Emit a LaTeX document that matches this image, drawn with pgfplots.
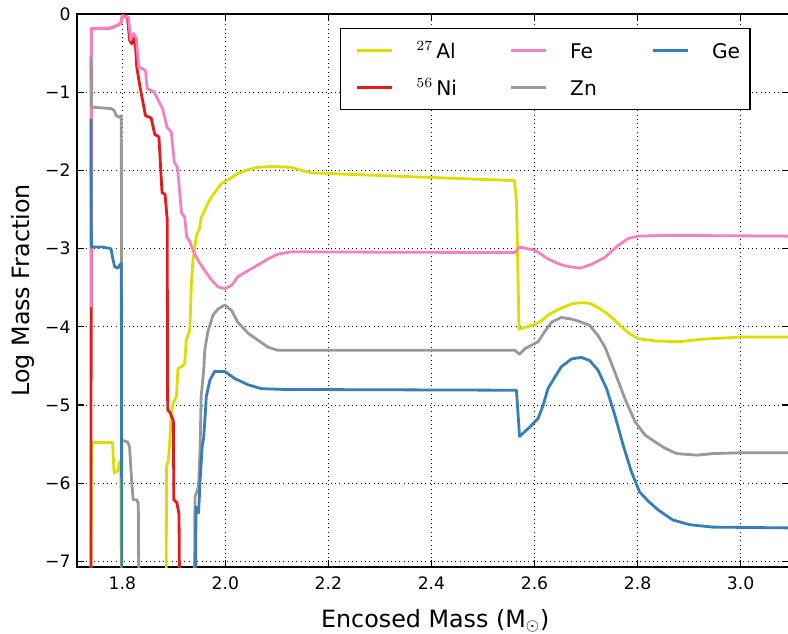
\documentclass[border=0pt]{standalone}
\usepackage{pgfplots}
\pgfplotsset{compat=1.18}
\usepackage{fontspec}
\setmainfont{DejaVu Sans}

\definecolor{alcol}{HTML}{DDDD00}
\definecolor{nicol}{HTML}{E41A1C}
\definecolor{fecol}{HTML}{F781BF}
\definecolor{zncol}{HTML}{999999}
\definecolor{gecol}{HTML}{377EB8}

\begin{document}
\begin{tikzpicture}
\useasboundingbox (-38.5pt,-33pt) rectangle (355.5pt,283.5pt);
\begin{axis}[
  at={(0,0)}, anchor=south west,
  width=356pt, height=276.5pt, scale only axis,
  xmin=1.712, xmax=3.094, ymin=-7.07, ymax=0,
  xtick={1.8,2.0,2.2,2.4,2.6,2.8,3.0},
  xticklabels={1.8,2.0,2.2,2.4,2.6,2.8,3.0},
  ytick={-7,-6,-5,-4,-3,-2,-1,0},
  yticklabels={−7,−6,−5,−4,−3,−2,−1,0},
  tick align=inside, major tick length=3.5pt,
  every tick/.style={black, line width=0.6pt},
  grid=major,
  major grid style={black, line width=0.45pt, dash pattern=on 0.5pt off 1.65pt},
  axis line style={black, line width=0.7pt},
  tick label style={font=\fontsize{8.6pt}{10pt}\selectfont, inner sep=0pt},
  xticklabel style={yshift=-4.85pt},
  yticklabel style={xshift=-3pt},
  label style={font=\fontsize{11.9pt}{14pt}\selectfont, inner sep=0pt},
  xlabel={Encosed Mass (M$_\odot$)},
  xlabel style={at={(axis description cs:0.3423,-0.109)}, anchor=base west},
  ylabel={Log Mass Fraction},
  ylabel style={at={(axis description cs:-0.0674,0.3074)}, anchor=base west},
  every axis plot/.append style={line width=1.4pt, line join=round},
  legend image code/.code={\draw[#1] (0pt,0pt) -- (17.5pt,0pt);},
  legend columns=3,
  legend style={
    at={(axis description cs:0.3694,0.9747)}, anchor=north west,
    draw=black, line width=0.6pt, fill=white,
    font=\fontsize{10.1pt}{12pt}\selectfont,
    inner xsep=7.5pt, inner ysep=4.75pt,
    nodes={inner sep=0pt, text height=10pt, text depth=2.5pt},
    cells={anchor=west},
    row sep=6pt,
    /tikz/every odd column/.append style={column sep=11.5pt},
    /tikz/every even column/.append style={column sep=6.5pt},
  },
]
% 27Al
\addplot[alcol, forget plot] coordinates {
(1.739,-7.3) (1.740,-5.48) (1.781,-5.48) (1.784,-5.87) (1.791,-5.84) (1.795,-5.72) (1.797,-5.72) (1.798,-7.3)
(1.885,-7.3) (1.886,-5.78) (1.889,-5.72) (1.892,-5.49) (1.895,-5.10) (1.899,-4.97) (1.905,-4.89) (1.908,-4.53)
(1.915,-4.51) (1.921,-4.47) (1.924,-4.17) (1.931,-4.04) (1.934,-3.45) (1.937,-3.15) (1.944,-2.83) (1.950,-2.74)
(1.953,-2.60) (1.960,-2.51) (1.966,-2.42) (1.973,-2.34) (1.983,-2.25) (1.992,-2.17) (2.005,-2.12) (2.024,-2.04)
(2.044,-1.99) (2.063,-1.96) (2.089,-1.95) (2.128,-1.96) (2.148,-2.00) (2.167,-2.03) (2.241,-2.05) (2.400,-2.09)
(2.561,-2.13) (2.565,-2.38) (2.567,-3.02) (2.570,-4.03) (2.601,-3.97) (2.614,-3.92) (2.626,-3.85) (2.642,-3.79)
(2.659,-3.74) (2.676,-3.70) (2.694,-3.69) (2.707,-3.70) (2.717,-3.73) (2.737,-3.81) (2.753,-3.90) (2.769,-4.00)
(2.785,-4.09) (2.801,-4.15) (2.834,-4.18) (2.881,-4.19) (2.921,-4.16) (2.998,-4.13) (3.094,-4.13)
};
% 56Ni
\addplot[nicol, forget plot] coordinates {
(1.739,-7.3) (1.740,-0.19) (1.777,-0.18) (1.789,-0.15) (1.797,-0.12) (1.800,-0.03) (1.810,-0.04) (1.814,-0.33)
(1.818,-0.38) (1.822,-0.30) (1.826,-0.45) (1.828,-0.68) (1.834,-0.92) (1.845,-1.30) (1.856,-1.33) (1.863,-1.54)
(1.871,-1.57) (1.877,-2.28) (1.883,-2.31) (1.887,-2.62) (1.888,-5.06) (1.893,-5.10) (1.899,-5.20) (1.900,-6.21)
(1.906,-6.25) (1.910,-6.40) (1.911,-7.3)
};
% Fe
\addplot[fecol, forget plot] coordinates {
(1.739,-3.75) (1.740,-0.19) (1.777,-0.18) (1.789,-0.15) (1.797,-0.12) (1.800,-0.02) (1.812,-0.04) (1.816,-0.33)
(1.822,-0.25) (1.827,-0.30) (1.832,-0.68) (1.845,-0.72) (1.848,-0.95) (1.862,-1.00) (1.868,-1.08) (1.878,-1.21)
(1.887,-1.45) (1.895,-1.51) (1.901,-1.90) (1.907,-1.96) (1.915,-2.55) (1.921,-2.59) (1.925,-2.85) (1.931,-2.91)
(1.937,-3.02) (1.947,-3.15) (1.960,-3.28) (1.973,-3.40) (1.986,-3.49) (1.999,-3.51) (2.012,-3.47) (2.024,-3.36)
(2.044,-3.28) (2.063,-3.21) (2.083,-3.13) (2.102,-3.07) (2.128,-3.04) (2.300,-3.045) (2.562,-3.05) (2.571,-2.98)
(2.601,-3.02) (2.626,-3.13) (2.642,-3.18) (2.659,-3.22) (2.688,-3.25) (2.711,-3.20) (2.737,-3.11) (2.762,-2.96)
(2.782,-2.87) (2.801,-2.84) (2.853,-2.83) (3.094,-2.84)
};
% Zn
\addplot[zncol, forget plot] coordinates {
(1.739,-0.55) (1.740,-1.19) (1.779,-1.21) (1.785,-1.24) (1.788,-1.30) (1.795,-1.32) (1.798,-1.30) (1.799,-5.45)
(1.810,-5.47) (1.814,-5.53) (1.818,-5.96) (1.821,-6.21) (1.828,-6.21) (1.831,-6.26) (1.832,-7.3)
(1.940,-7.3) (1.941,-6.17) (1.948,-6.05) (1.951,-5.53) (1.953,-4.89) (1.958,-4.55) (1.960,-4.30) (1.966,-4.06)
(1.976,-3.85) (1.986,-3.77) (1.999,-3.72) (2.012,-3.79) (2.024,-3.94) (2.044,-4.08) (2.063,-4.17) (2.083,-4.26)
(2.102,-4.30) (2.173,-4.30) (2.562,-4.30) (2.571,-4.35) (2.581,-4.28) (2.607,-4.19) (2.620,-4.06) (2.633,-3.94)
(2.652,-3.88) (2.672,-3.90) (2.691,-3.94) (2.707,-3.98) (2.723,-4.11) (2.737,-4.26) (2.756,-4.58) (2.775,-4.91)
(2.795,-5.21) (2.814,-5.38) (2.834,-5.47) (2.853,-5.55) (2.876,-5.62) (2.915,-5.64) (2.947,-5.62) (2.999,-5.61)
(3.094,-5.61)
};
% Ge
\addplot[gecol, forget plot] coordinates {
(1.739,-1.34) (1.740,-2.98) (1.762,-2.98) (1.778,-3.00) (1.781,-3.11) (1.785,-3.23) (1.791,-3.25) (1.795,-3.21)
(1.798,-3.19) (1.799,-7.3)
(1.942,-7.3) (1.943,-6.30) (1.948,-6.38) (1.951,-5.96) (1.955,-5.53) (1.958,-5.41) (1.961,-5.11) (1.963,-4.89)
(1.970,-4.68) (1.979,-4.57) (1.999,-4.57) (2.018,-4.66) (2.044,-4.74) (2.070,-4.79) (2.115,-4.80) (2.565,-4.81)
(2.571,-5.40) (2.591,-5.28) (2.607,-5.17) (2.617,-5.00) (2.626,-4.79) (2.636,-4.68) (2.652,-4.51) (2.672,-4.41)
(2.691,-4.39) (2.707,-4.43) (2.723,-4.55) (2.740,-4.79) (2.756,-5.13) (2.772,-5.51) (2.788,-5.85) (2.804,-6.11)
(2.821,-6.23) (2.840,-6.34) (2.853,-6.40) (2.869,-6.47) (2.902,-6.53) (2.946,-6.56) (3.094,-6.57)
};
% legend, filled row by row
\addlegendimage{alcol, line width=1.4pt}
\addlegendentry{\makebox[40pt][l]{$^{27}$\hspace{1.5pt}Al}}
\addlegendimage{fecol, line width=1.4pt}
\addlegendentry{\makebox[34pt][l]{Fe}}
\addlegendimage{gecol, line width=1.4pt}
\addlegendentry{\makebox[11.5pt][l]{Ge}}
\addlegendimage{nicol, line width=1.4pt}
\addlegendentry{\makebox[40pt][l]{$^{56}$\hspace{1.5pt}Ni}}
\addlegendimage{zncol, line width=1.4pt}
\addlegendentry{\makebox[34pt][l]{Zn}}
\end{axis}
\end{tikzpicture}
\end{document}
